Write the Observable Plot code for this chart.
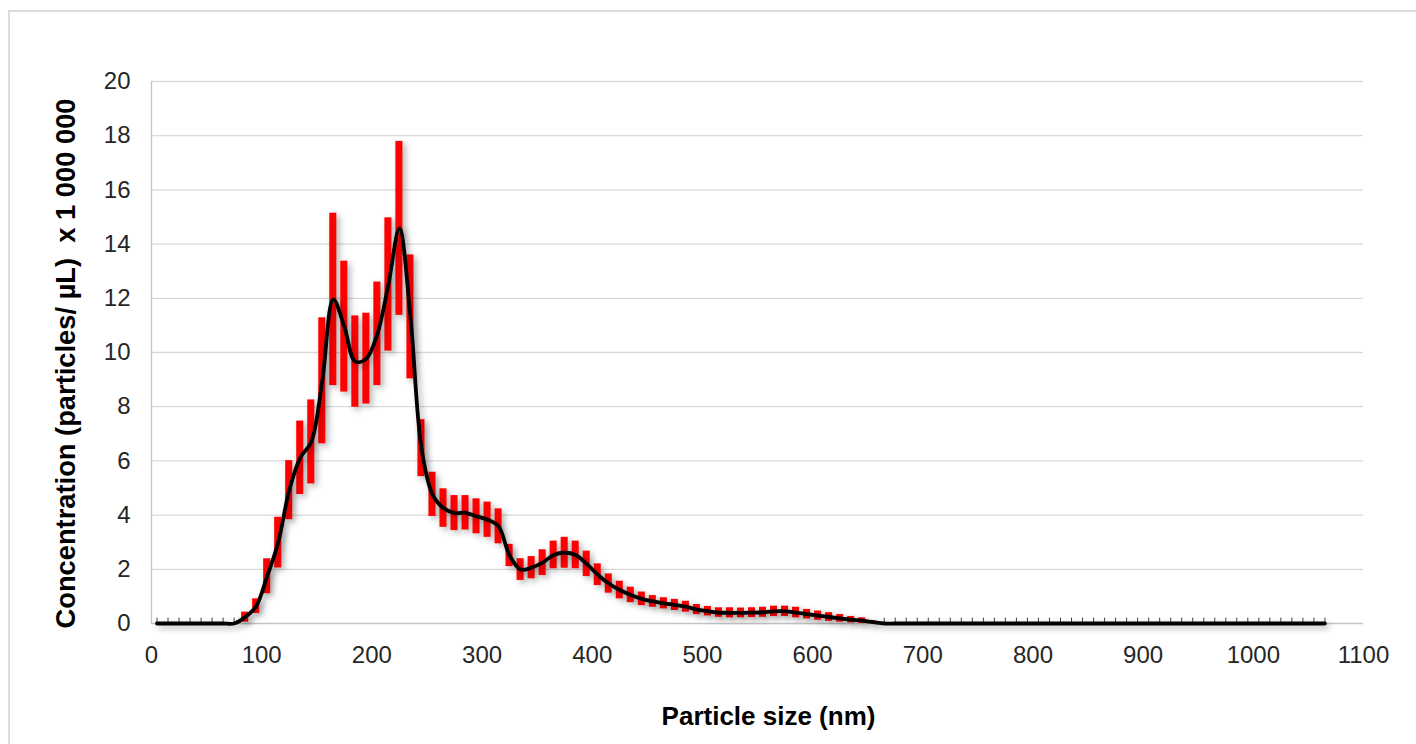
<!DOCTYPE html>
<html>
<head>
<meta charset="utf-8">
<script src="https://cdn.jsdelivr.net/npm/d3@7"></script>
<script src="https://cdn.jsdelivr.net/npm/@observablehq/plot@0.6"></script>
<style>
  html, body { margin: 0; padding: 0; background: #fff; }
  #wrap { position: relative; width: 1416px; height: 744px; overflow: hidden; }
  #border { position: absolute; left: 8px; top: 10px; width: 1420px; height: 760px; border: 2px solid #dcdcdc; box-sizing: border-box; pointer-events: none; }
  #chart { position: absolute; left: 0; top: 0; }
</style>
</head>
<body>
<div id="wrap"><div id="chart"></div><div id="border"></div></div>
<script>
// Particle size bins (nm) with measured concentration ranges (mean ± SD), x 1 000 000 particles/µL
const sizes = [85, 95, 105, 115, 125, 135, 145, 155, 165, 175, 185, 195, 205, 215, 225, 235, 245, 255, 265, 275, 285, 295, 305, 315, 325, 335, 345, 355, 365, 375, 385, 395, 405, 415, 425, 435, 445, 455, 465, 475, 485, 495, 505, 515, 525, 535, 545, 555, 565, 575, 585, 595, 605, 615, 625, 635, 645, 655];
const lower = [0.05, 0.37, 1.10, 2.05, 3.83, 4.76, 5.15, 6.63, 8.78, 8.54, 7.98, 8.10, 8.78, 10.05, 11.37, 9.03, 5.42, 3.95, 3.55, 3.43, 3.45, 3.31, 3.18, 2.94, 2.10, 1.59, 1.65, 1.77, 2.02, 2.04, 2.02, 1.73, 1.40, 1.12, 0.91, 0.77, 0.66, 0.60, 0.54, 0.48, 0.42, 0.33, 0.28, 0.23, 0.21, 0.21, 0.22, 0.23, 0.26, 0.26, 0.21, 0.17, 0.12, 0.08, 0.05, 0.02, 0.00, 0.00];
const upper = [0.42, 0.91, 2.39, 3.92, 6.01, 7.47, 8.25, 11.28, 15.14, 13.37, 11.35, 11.45, 12.60, 14.97, 17.79, 13.60, 7.52, 5.58, 4.97, 4.72, 4.72, 4.60, 4.48, 4.23, 2.92, 2.39, 2.47, 2.72, 3.04, 3.18, 3.04, 2.67, 2.20, 1.83, 1.56, 1.34, 1.16, 1.03, 0.95, 0.89, 0.82, 0.70, 0.63, 0.58, 0.58, 0.57, 0.58, 0.60, 0.64, 0.64, 0.60, 0.52, 0.46, 0.40, 0.33, 0.26, 0.21, 0.10];
// Bins with zero concentration
const zeroSizes = [5, 15, 25, 35, 45, 55, 65, 75, 665, 675, 685, 695, 705, 715, 725, 735, 745, 755, 765, 775, 785, 795, 805, 815, 825, 835, 845, 855, 865, 875, 885, 895, 905, 915, 925, 935, 945, 955, 965, 975, 985, 995, 1005, 1015, 1025, 1035, 1045, 1055, 1065];
const xTicks = [0, 100, 200, 300, 400, 500, 600, 700, 800, 900, 1000, 1100];
const yTicks = [0, 2, 4, 6, 8, 10, 12, 14, 16, 18, 20];
const xTitle = "Particle size (nm)";
const yTitle = "Concentration (particles/ µL)  x 1 000 000";

const bars = sizes.map((s, i) => ({size: s, lo: lower[i], hi: upper[i], mean: (lower[i] + upper[i]) / 2}));
const zeros = zeroSizes.map(s => ({size: s, lo: 0, hi: 0, mean: 0}));
const all = bars.concat(zeros).sort((a, b) => a.size - b.size);

const halfW = 3.2;
const font = "'Liberation Sans', Arial, sans-serif";

const chart = Plot.plot({
  width: 1416,
  height: 744,
  marginLeft: 151,
  marginRight: 53,
  marginTop: 81,
  marginBottom: 121,
  style: {fontFamily: font, background: "transparent"},
  x: {domain: [0, 1100], ticks: xTicks},
  y: {domain: [0, 20], ticks: yTicks},
  marks: [
    Plot.ruleY(yTicks.filter(d => d > 0), {stroke: "#d9d9d9", strokeWidth: 1.3}),
    Plot.ruleX([0], {stroke: "#c4c4c4", strokeWidth: 1.3}),
    Plot.ruleY([0], {stroke: "#c4c4c4", strokeWidth: 1.5}),
    Plot.axisX({ticks: xTicks, tickFormat: d => String(d), tickSize: 0, tickPadding: 22, fontSize: 24, fill: "#262626", label: null}),
    Plot.axisY({ticks: yTicks, tickFormat: d => String(d), tickSize: 0, tickPadding: 21, fontSize: 24, fill: "#262626", label: null}),
    Plot.rect(bars, {x1: d => d.size - halfW, x2: d => d.size + halfW, y1: "lo", y2: "hi", fill: "#ff0000"}),
    Plot.ruleX(zeros, {x: "size", y1: 0, y2: 0.2, stroke: "#444", strokeWidth: 1}),
    Plot.line(all, {x: "size", y: "mean", curve: "catmull-rom", stroke: "#000", strokeWidth: 3.8}),
    Plot.text([xTitle], {frameAnchor: "bottom", dx: 11, dy: 93, lineAnchor: "middle", fontSize: 26, fontWeight: "bold", fill: "#000"}),
    Plot.text([yTitle], {frameAnchor: "left", dx: -85, dy: 11, rotate: -90, textAnchor: "middle", lineAnchor: "middle", fontSize: 27.3, fontWeight: "bold", fill: "#000"})
  ]
});

document.getElementById("chart").appendChild(chart);

// Soft drop shadows like the original spreadsheet chart
d3.select(chart).selectAll('g[aria-label="rect"], g[aria-label="line"]')
  .style("filter", "drop-shadow(3px 3px 3px rgba(0,0,0,0.3))");
</script>
</body>
</html>
